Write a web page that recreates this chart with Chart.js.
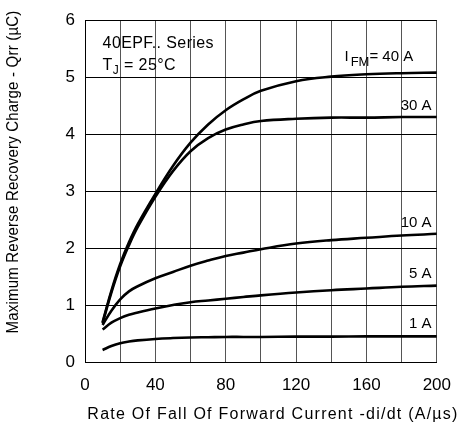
<!DOCTYPE html>
<html>
<head>
<meta charset="utf-8">
<script src="https://cdn.jsdelivr.net/npm/chart.js@4"></script>
<style>
html,body{margin:0;padding:0;background:#fff;}
#wrap{width:464px;height:432px;}
</style>
</head>
<body>
<div id="wrap"><canvas id="c" width="464" height="432"></canvas></div>
<script>
// di/dt values (A/µs)
const didt = [10, 15, 20, 25, 30, 40, 50, 60, 70, 80, 90, 100, 120, 140, 160, 180, 200];
// Qrr (µC) per forward current
const q40A = [0.70, 1.25, 1.72, 2.10, 2.42, 2.95, 3.44, 3.85, 4.17, 4.42, 4.61, 4.76, 4.93, 5.01, 5.05, 5.07, 5.08];
const q30A = [0.68, 1.22, 1.68, 2.05, 2.37, 2.90, 3.35, 3.70, 3.93, 4.08, 4.17, 4.23, 4.27, 4.29, 4.29, 4.30, 4.30];
const q10A = [0.65, 0.90, 1.10, 1.24, 1.33, 1.47, 1.58, 1.69, 1.78, 1.86, 1.92, 1.98, 2.08, 2.14, 2.18, 2.22, 2.25];
const q5A  = [0.57, 0.69, 0.77, 0.83, 0.87, 0.94, 1.00, 1.05, 1.08, 1.11, 1.14, 1.17, 1.22, 1.26, 1.29, 1.32, 1.34];
const q1A  = [0.21, 0.28, 0.33, 0.36, 0.38, 0.405, 0.42, 0.43, 0.435, 0.44, 0.44, 0.44, 0.445, 0.445, 0.45, 0.45, 0.45];
const seriesNames = ['40 A', '30 A', '10 A', '5 A', '1 A'];
const xTickLabels = ['0', '40', '80', '120', '160', '200'];
const yTickLabels = ['0', '1', '2', '3', '4', '5', '6'];

const FONT = '"Liberation Sans", Arial, sans-serif';

function pts(arr){ return didt.map((x,i)=>({x:x, y:arr[i]})); }
const allSeries = [q40A, q30A, q10A, q5A, q1A];

const datasets = allSeries.map((s,i)=>({
  label: seriesNames[i],
  data: pts(s),
  borderColor: '#000',
  borderWidth: 2.6,
  pointRadius: 0,
  fill: false,
  tension: 0.4
}));

// annotation texts anchored in data coordinates
const labelPlugin = {
  id: 'labels',
  afterDraw(chart){
    const {ctx, scales:{x, y}} = chart;
    ctx.save();
    ctx.fillStyle = '#000';
    ctx.textBaseline = 'alphabetic';
    // header
    ctx.letterSpacing = '0.4px';
    ctx.font = '16px ' + FONT;
    ctx.textAlign = 'left';
    ctx.fillText('40EPF.. Series', x.getPixelForValue(10), y.getPixelForValue(5.52));
    const tx = x.getPixelForValue(10), ty = y.getPixelForValue(5.13);
    ctx.fillText('T', tx, ty);
    let w = ctx.measureText('T').width;
    ctx.font = '12px ' + FONT;
    ctx.fillText('J', tx + w, ty + 4);
    let w2 = ctx.measureText('J').width;
    ctx.font = '16px ' + FONT;
    ctx.fillText(' = 25°C', tx + w + w2, ty);
    // I_FM = 40 A
    ctx.letterSpacing = '0px';
    const ix = x.getPixelForValue(147.5), iy = y.getPixelForValue(5.28);
    ctx.font = '15px ' + FONT;
    ctx.fillText('I', ix, iy);
    w = ctx.measureText('I').width + 2;
    ctx.font = '13px ' + FONT;
    ctx.fillText('FM', ix + w, iy + 5);
    w2 = ctx.measureText('FM').width;
    ctx.font = '15px ' + FONT;
    ctx.fillText('= 40 A', ix + w + w2, iy);
    // right-aligned current labels
    ctx.textAlign = 'right';
    const rx = x.getPixelForValue(197);
    ctx.fillText('30 A', rx, y.getPixelForValue(4.43));
    ctx.fillText('10 A', rx, y.getPixelForValue(2.37));
    ctx.fillText('5 A', rx, y.getPixelForValue(1.475));
    ctx.fillText('1 A', rx, y.getPixelForValue(0.605));
    // axis titles
    ctx.font = '16px ' + FONT;
    ctx.letterSpacing = '1.25px';
    ctx.textAlign = 'center';
    ctx.textBaseline = 'middle';
    ctx.fillText('Rate Of Fall Of Forward Current -di/dt (A/µs)', 273, 415);
    ctx.letterSpacing = '0.2px';
    ctx.font = '15px ' + FONT;
    ctx.translate(13, 172);
    ctx.rotate(-Math.PI/2);
    ctx.scale(1, 1.12);
    ctx.fillText('Maximum Reverse Recovery Charge - Qrr (µC)', 0, 0);
    ctx.restore();
  }
};

new Chart(document.getElementById('c'), {
  type: 'line',
  data: { datasets },
  options: {
    responsive: false,
    animation: false,
    events: [],
    layout: { padding: { top: 12, right: 27, left: 0, bottom: 0 } },
    plugins: { legend: { display: false }, tooltip: { enabled: false } },
    scales: {
      x: {
        type: 'linear', min: 0, max: 200,
        afterFit(s){ s.height = 70; },
        grid: { color: '#555', lineWidth: 1, drawTicks: false },
        border: { color: '#000', width: 1 },
        ticks: {
          stepSize: 20, padding: 13, color: '#000',
          font: { family: FONT, size: 17 },
          maxRotation: 0, autoSkip: false,
          callback(v){ const i = xTickLabels.indexOf(String(v)); return i >= 0 ? xTickLabels[i] : ''; }
        }
      },
      y: {
        type: 'linear', min: 0, max: 6,
        afterFit(s){ s.width = 85; },
        grid: { color: '#000', lineWidth: 1, drawTicks: false },
        border: { color: '#000', width: 1 },
        ticks: {
          stepSize: 1, padding: 10, color: '#000',
          font: { family: FONT, size: 17 },
          callback(v){ const i = yTickLabels.indexOf(String(v)); return i >= 0 ? yTickLabels[i] : ''; }
        }
      }
    }
  },
  plugins: [labelPlugin]
});
</script>
</body>
</html>
